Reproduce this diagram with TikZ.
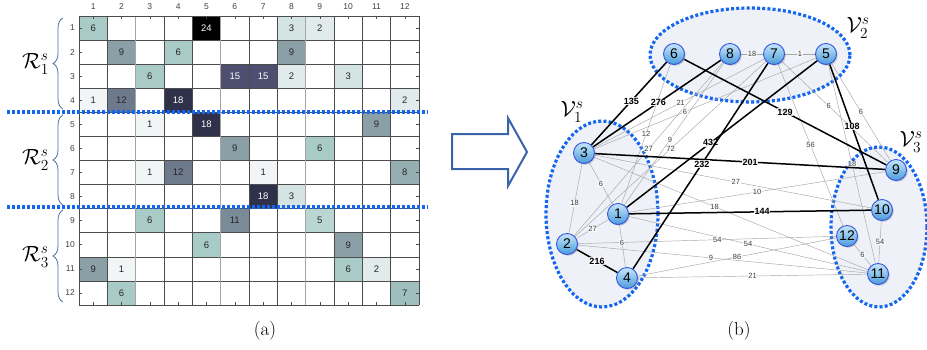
\RequirePackage{fix-cm}
\documentclass[tikz,border=0pt]{standalone}
\usepackage{amsmath}
\usepackage{fontspec}
\setsansfont{Liberation Sans}
\usetikzlibrary{positioning,shadows,decorations.pathreplacing}

% colours
\definecolor{dotblue}{HTML}{1466F0}
\definecolor{bracecol}{HTML}{4A6DA8}
\definecolor{arrowcol}{HTML}{3B63A8}
\definecolor{setfill}{HTML}{EEF1F7}
\definecolor{nodetop}{HTML}{C6E7FA}
\definecolor{nodebot}{HTML}{4A9BDA}
\definecolor{nodeline}{HTML}{3552E0}
\definecolor{m1}{HTML}{F1F5F5}
\definecolor{m2}{HTML}{E1EBEB}
\definecolor{m3}{HTML}{D4E4E2}
\definecolor{m5}{HTML}{B9D6D3}
\definecolor{m6}{HTML}{A9CBC8}
\definecolor{m7}{HTML}{9FBFBF}
\definecolor{m8}{HTML}{94AEB2}
\definecolor{m9}{HTML}{8B9FA7}
\definecolor{m11}{HTML}{7A8B98}
\definecolor{m12}{HTML}{6D7A8C}
\definecolor{m15}{HTML}{4E4F70}
\definecolor{m18}{HTML}{2F3049}
\definecolor{m24}{HTML}{000000}

\pgfdeclarelayer{setlayer}
\pgfdeclarelayer{edgelayer}
\pgfsetlayers{setlayer,edgelayer,main}

\tikzset{
  cellbox/.style={rectangle, minimum width=28.333pt, minimum height=24.083pt, inner sep=0pt,
    font=\sffamily\fontsize{9.5}{10}\selectfont, text=black!85},
  val1/.style={fill=m1}, val2/.style={fill=m2}, val3/.style={fill=m3},
  val5/.style={fill=m5}, val6/.style={fill=m6}, val7/.style={fill=m7},
  val8/.style={fill=m8}, val9/.style={fill=m9}, val11/.style={fill=m11},
  val12/.style={fill=m12}, val15/.style={fill=m15, text=white},
  val18/.style={fill=m18, text=white}, val24/.style={fill=m24, text=white},
  gridline/.style={draw=black!70, line width=0.6pt},
  gridthick/.style={draw=black!35, line width=1.4pt},
  axlbl/.style={font=\sffamily\fontsize{8.5}{9}\selectfont, text=black!75, inner sep=0pt},
  sepline/.style={draw=dotblue, line width=3.5pt, dash pattern=on 3pt off 2pt},
  rbrace/.style={draw=bracecol, line width=0.8pt, decorate, decoration={brace, amplitude=10pt}},
  biglbl/.style={font=\fontsize{22}{24}\selectfont, inner sep=0pt},
  caplbl/.style={font=\fontsize{19}{20}\selectfont, inner sep=0pt},
  bigarrow/.style={draw=arrowcol, line width=2pt, line join=miter},
  setell/.style={fill=setfill, draw=dotblue, line width=3.2pt, dash pattern=on 3pt off 2.2pt},
  vert/.style={circle, minimum size=21pt, inner sep=0pt, draw=nodeline, line width=0.9pt,
    top color=nodetop, bottom color=nodebot,
    drop shadow={shadow xshift=1.3pt, shadow yshift=-1.3pt, opacity=0.35},
    font=\sffamily\fontsize{14}{14}\selectfont},
  thinedge/.style={draw=black!35, line width=0.45pt},
  boldedge/.style={draw=black, line width=1.5pt},
  thinlbl/.style={font=\sffamily\fontsize{7.5}{8}\selectfont, text=black!75, fill=white,
    fill opacity=0.7, text opacity=1, inner sep=0.6pt},
  boldlbl/.style={font=\sffamily\bfseries\fontsize{9}{10}\selectfont, fill=white,
    fill opacity=0.85, text opacity=1, inner sep=0.6pt}
}

\begin{document}
\begin{tikzpicture}[x=1pt,y=-1pt]
\useasboundingbox (0,0) rectangle (927,349);

% (a) matrix cells
\foreach \r/\c/\v in {1/1/6, 1/5/24, 1/8/3, 1/9/2, 2/2/9, 2/4/6, 2/8/9,
    3/3/6, 3/6/15, 3/7/15, 3/8/2, 3/10/3, 4/1/1, 4/2/12, 4/4/18, 4/12/2,
    5/3/1, 5/5/18, 5/11/9, 6/6/9, 6/9/6, 7/3/1, 7/4/12, 7/7/1, 7/12/8,
    8/7/18, 8/8/3, 9/3/6, 9/6/11, 9/9/5, 10/5/6, 10/10/9,
    11/1/9, 11/2/1, 11/10/6, 11/11/2, 12/2/6, 12/12/7}
  \node[cellbox, val\v] (c-\r-\c) at ({79+(\c-0.5)*28.333}, {16+(\r-0.5)*24.083}) {\v};

% grid
\foreach \i in {0,...,12} {
  \draw[gridline] (79, {16+\i*24.083}) -- (419, {16+\i*24.083});
  \draw[gridline] ({79+\i*28.333}, 16) -- ({79+\i*28.333}, 305);
}
\foreach \i in {2,5,8}
  \draw[gridthick] ({79+\i*28.333}, 16.5) -- ({79+\i*28.333}, 304.5);

% ticks and axis numbers
\foreach \i in {1,...,12} {
  \draw[gridline] (79, {16+(\i-0.5)*24.083}) -- (82, {16+(\i-0.5)*24.083});
  \draw[gridline] (419, {16+(\i-0.5)*24.083}) -- (416, {16+(\i-0.5)*24.083});
  \draw[gridline] ({79+(\i-0.5)*28.333}, 16) -- ({79+(\i-0.5)*28.333}, 19);
  \draw[gridline] ({79+(\i-0.5)*28.333}, 305) -- ({79+(\i-0.5)*28.333}, 302);
  \node[axlbl] (col-\i) at ({79+(\i-0.5)*28.333}, 7) {\i};
  \node[axlbl, anchor=east] (row-\i) at (75, {16+(\i-0.5)*24.083}) {\i};
}

% separators
\draw[sepline] (7,112) -- (428,112);
\draw[sepline] (7,207) -- (428,207);

% braces and row groups
\draw[rbrace] (63,109) -- (63,18);
\draw[rbrace] (63,205) -- (63,115);
\draw[rbrace] (63,302) -- (63,210);
\node[biglbl, anchor=east] (grp1) at (49,64) {$\mathcal{R}^s_1$};
\node[biglbl, anchor=east] (grp2) at (49,160) {$\mathcal{R}^s_2$};
\node[biglbl, anchor=east] (grp3) at (49,257) {$\mathcal{R}^s_3$};

\node[caplbl] (capa) at (265,331) {(a)};

% arrow
\draw[bigarrow] (452,134) -- (508,134) -- (508,118) -- (527,152) -- (508,186) -- (508,169) -- (452,169) -- cycle;

% (b) groups
\begin{pgfonlayer}{setlayer}
\draw[setell] (750,55) ellipse [x radius=100pt, y radius=47pt];
\draw[setell] (602,214) ellipse [x radius=56pt, y radius=93pt];
\draw[setell] (879,227) ellipse [x radius=48pt, y radius=80pt];
\end{pgfonlayer}

% vertices
\node[vert] (v1) at (618,214) {1};
\node[vert] (v2) at (567,244) {2};
\node[vert] (v3) at (584,153) {3};
\node[vert] (v4) at (627,278) {4};
\node[vert] (v5) at (826,54) {5};
\node[vert] (v6) at (674,54) {6};
\node[vert] (v7) at (774,54) {7};
\node[vert] (v8) at (730,54) {8};
\node[vert] (v9) at (896,170) {9};
\node[vert] (v10) at (882,210) {10};
\node[vert] (v11) at (878,274) {11};
\node[vert] (v12) at (847,236) {12};

% edges
\begin{pgfonlayer}{edgelayer}
\foreach \a/\b/\w/\p in {1/2/27/0.5, 1/3/6/0.5, 1/4/6/0.42, 1/6/12/0.5, 1/8/9/0.46,
    1/9/10/0.5, 1/11/54/0.5, 2/3/18/0.43, 2/7/72/0.5, 2/8/27/0.5, 2/11/9/0.46,
    2/12/54/0.54, 3/5/6/0.41, 3/7/21/0.51, 3/10/27/0.51, 3/11/18/0.44,
    4/11/21/0.5, 4/12/86/0.5, 5/7/1/0.5, 5/9/6/0.5, 5/11/18/0.5, 7/8/18/0.5,
    7/9/6/0.44, 7/12/56/0.5, 10/11/54/0.5, 11/12/6/0.5}
  \draw[thinedge] (v\a) -- node[thinlbl, pos=\p] {\w} (v\b);
\foreach \a/\b/\w/\p in {1/5/432/0.44, 1/10/144/0.55, 2/4/216/0.5, 3/6/135/0.53,
    3/8/276/0.51, 3/9/201/0.535, 4/7/232/0.51, 5/10/108/0.46, 6/9/129/0.5}
  \draw[boldedge] (v\a) -- node[boldlbl, pos=\p] {\w} (v\b);
\end{pgfonlayer}

\node[biglbl] (lbl1) at (572,112) {$\mathcal{V}^s_1$};
\node[biglbl] (lbl2) at (858,28) {$\mathcal{V}^s_2$};
\node[biglbl] (lbl3) at (911,142) {$\mathcal{V}^s_3$};

\node[caplbl] (capb) at (739,331) {(b)};
\end{tikzpicture}
\end{document}
